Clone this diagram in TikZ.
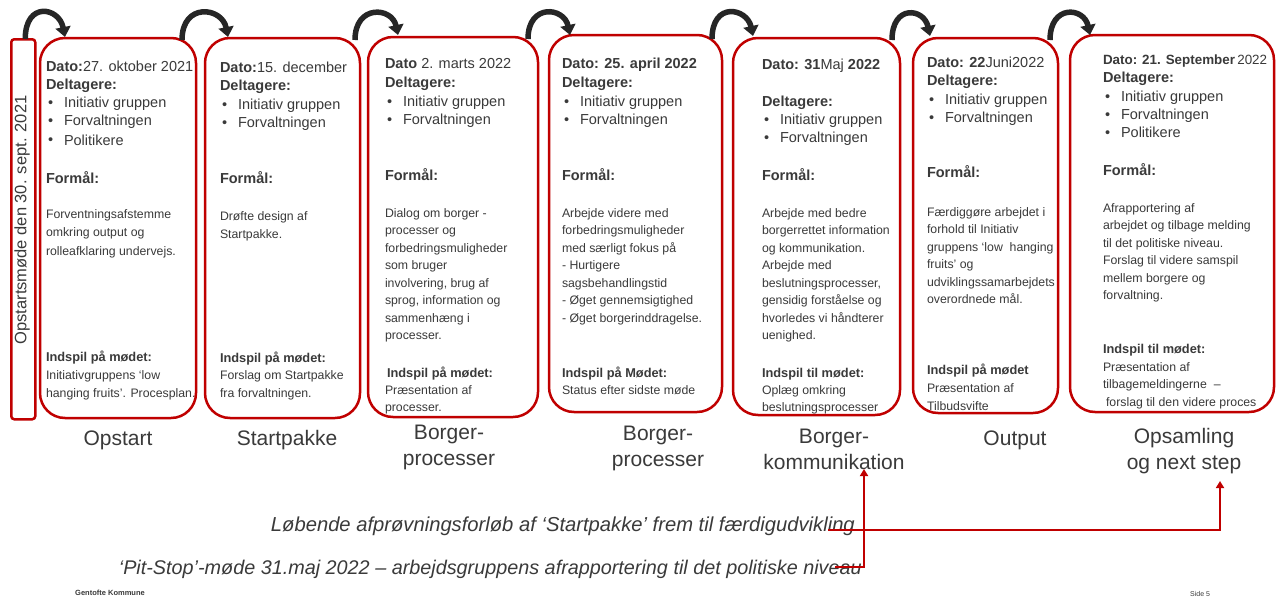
\documentclass[tikz,border=0pt]{standalone}
\usepackage{fontspec}
\setmainfont{Liberation Sans}
\usetikzlibrary{arrows.meta,calc}
\definecolor{boxred}{HTML}{C00000}
\definecolor{tc}{HTML}{3A3A3A}
\definecolor{arrc}{HTML}{262626}
\newcommand\txtlines[5]{\foreach \t [count=\i from 0] in {#5} \node[tl] (#1\i) at (#2,#3+\i*#4) {\t};}
\begin{document}
\begin{tikzpicture}[x=1pt,y=-1pt,
  tl/.style={anchor=base west,inner sep=0pt,outer sep=0pt,text=tc},
  hd/.style={font=\fontsize{14.5pt}{18pt}\selectfont},
  hb/.style={font=\bfseries\fontsize{14.5pt}{18pt}\selectfont},
  bd/.style={font=\fontsize{12.3pt}{17pt}\selectfont},
  ib/.style={font=\bfseries\fontsize{12.8pt}{17pt}\selectfont},
  boxst/.style={draw=boxred,line width=2.5pt,rounded corners=25pt,anchor=north west,inner sep=0pt,outer sep=0pt},
  caption/.style={align=center,text=tc,inner sep=0pt,font=\fontsize{21pt}{26pt}\selectfont},
  ital/.style={text=tc,inner sep=0pt},
  toparr/.style={draw=arrc,line width=5.5pt,-{Triangle[width=15pt,length=10pt]}},
  redarr/.style={draw=boxred,line width=2.5pt,-{Triangle[width=8pt,length=7pt]}}
]
\clip (0,0) rectangle (1276,597);
\fill[white] (0,0) rectangle (1276,597);

% ---------- box 1
\begin{scope}[hd]
\node[tl] (d1) at (46,71) {{\bfseries Dato:}27. oktober 2021};
\node[tl,hb] (g1) at (46,89) {Deltagere:};
\txtlines{p1b}{48}{107}{18.5}{•,•,•}
\node[tl] (p1a) at (64,107) {Initiativ gruppen};
\node[tl] (p1c) at (64,125) {Forvaltningen};
\node[tl] (p1d) at (64,145) {Politikere};
\node[tl,hb] (f1) at (46,183) {Formål:};
\end{scope}
\begin{scope}[bd]
\txtlines{t1}{46}{218}{18.5}{Forventningsafstemme,omkring output og,rolleafklaring undervejs.}
\node[tl,ib] (i1) at (46,361) {Indspil på mødet:};
\txtlines{u1}{46}{379}{18.5}{Initiativgruppens ‘low,hanging fruits’. Procesplan.}
\end{scope}

% ---------- box 2
\begin{scope}[hd]
\node[tl] (d2) at (220,72) {{\bfseries Dato:}15. december};
\node[tl,hb] (g2) at (220,90) {Deltagere:};
\txtlines{p2b}{222}{109}{18}{•,•}
\node[tl] (p2a) at (238,109) {Initiativ gruppen};
\node[tl] (p2c) at (238,127) {Forvaltningen};
\node[tl,hb] (f2) at (220,183) {Formål:};
\end{scope}
\begin{scope}[bd]
\txtlines{t2}{220}{220}{18}{Drøfte design af,Startpakke.}
\node[tl,ib] (i2) at (220,362) {Indspil på mødet:};
\txtlines{u2}{220}{379}{18.5}{Forslag om Startpakke,fra forvaltningen.}
\end{scope}

% ---------- box 3
\begin{scope}[hd]
\node[tl] (d3) at (385,68) {{\bfseries Dato} 2. marts 2022};
\node[tl,hb] (g3) at (385,87) {Deltagere:};
\txtlines{p3b}{387}{106}{18}{•,•}
\node[tl] (p3a) at (403,106) {Initiativ gruppen};
\node[tl] (p3c) at (403,124) {Forvaltningen};
\node[tl,hb] (f3) at (385,180) {Formål:};
\end{scope}
\begin{scope}[bd]
\txtlines{t3}{385}{217}{17.5}{Dialog om borger -,processer og,forbedringsmuligheder,som bruger,{involvering, brug af},{sprog, information og},sammenhæng i,processer.}
\node[tl,ib] (i3) at (387,377) {Indspil på mødet:};
\txtlines{u3}{385}{394}{17.5}{Præsentation af,processer.}
\end{scope}

% ---------- box 4
\begin{scope}[hd]
\node[tl,hb] (d4) at (562,68) {Dato: 25. april 2022};
\node[tl,hb] (g4) at (562,87) {Deltagere:};
\txtlines{p4b}{564}{106}{18}{•,•}
\node[tl] (p4a) at (580,106) {Initiativ gruppen};
\node[tl] (p4c) at (580,124) {Forvaltningen};
\node[tl,hb] (f4) at (562,180) {Formål:};
\end{scope}
\begin{scope}[bd]
\txtlines{t4}{562}{217}{17.5}{Arbejde videre med,forbedringsmuligheder,med særligt fokus på,- Hurtigere,sagsbehandlingstid,- Øget gennemsigtighed,- Øget borgerinddragelse.}
\node[tl,ib] (i4) at (562,377) {Indspil på Mødet:};
\node[tl] (u4) at (562,394) {Status efter sidste møde};
\end{scope}

% ---------- box 5
\begin{scope}[hd]
\node[tl] (d5) at (762,69) {{\bfseries Dato: 31}Maj {\bfseries 2022}};
\node[tl,hb] (g5) at (762,106) {Deltagere:};
\txtlines{p5b}{764}{124}{18.5}{•,•}
\node[tl] (p5a) at (780,124) {Initiativ gruppen};
\node[tl] (p5c) at (780,142.5) {Forvaltningen};
\node[tl,hb] (f5) at (762,180) {Formål:};
\end{scope}
\begin{scope}[bd]
\txtlines{t5}{762}{217}{17.5}{Arbejde med bedre,borgerrettet information,og kommunikation.,Arbejde med,{beslutningsprocesser,},gensidig forståelse og,hvorledes vi håndterer,uenighed.}
\node[tl,ib] (i5) at (762,377) {Indspil til mødet:};
\txtlines{u5}{762}{394}{17.5}{Oplæg omkring,beslutningsprocesser}
\end{scope}

% ---------- box 6
\begin{scope}[hd]
\node[tl] (d6) at (927,67) {{\bfseries Dato: 22}Juni2022};
\node[tl,hb] (g6) at (927,85) {Deltagere:};
\txtlines{p6b}{929}{104}{18}{•,•}
\node[tl] (p6a) at (945,104) {Initiativ gruppen};
\node[tl] (p6c) at (945,122) {Forvaltningen};
\node[tl,hb] (f6) at (927,177) {Formål:};
\end{scope}
\begin{scope}[bd]
\txtlines{t6}{927}{216}{17.5}{Færdiggøre arbejdet i,forhold til Initiativ,gruppens ‘low\ \ hanging,fruits’ og,udviklingssamarbejdets,overordnede mål.}
\node[tl,ib] (i6) at (927,374) {Indspil på mødet};
\txtlines{u6}{927}{392}{18}{Præsentation af,Tilbudsvifte}
\end{scope}

% ---------- box 7
\begin{scope}[hd]
\node[tl,font=\fontsize{13.4pt}{18pt}\selectfont] (d7) at (1103,64) {{\bfseries Dato: 21. September}\,2022};
\node[tl,hb] (g7) at (1103,82) {Deltagere:};
\txtlines{p7b}{1105}{101}{18}{•,•,•}
\node[tl] (p7a) at (1121,101) {Initiativ gruppen};
\node[tl] (p7c) at (1121,119) {Forvaltningen};
\node[tl] (p7d) at (1121,137) {Politikere};
\node[tl,hb] (f7) at (1103,175) {Formål:};
\end{scope}
\begin{scope}[bd]
\txtlines{t7}{1103}{212}{17.5}{Afrapportering af,arbejdet og tilbage melding,til det politiske niveau.,Forslag til videre samspil,mellem borgere og,forvaltning.}
\node[tl,ib] (i7) at (1103,353) {Indspil til mødet:};
\txtlines{u7}{1103}{371}{17.5}{Præsentation af,tilbagemeldingerne\ \ –}
\node[tl] (u7c) at (1106,406) {forslag til den videre proces};
\end{scope}

% ---------- boxes
\node[draw=boxred,line width=2.5pt,rounded corners=3pt,anchor=north west,inner sep=0pt,minimum width=24pt,minimum height=380pt] (b0) at (10,38) {};
\node[rotate=90,text=tc,inner sep=0pt,font=\fontsize{16.5pt}{18pt}\selectfont] (v0) at (22,220) {Opstartsmøde den 30. sept. 2021};
\node[boxst,minimum width=156pt,minimum height=380pt] (b1) at (40,38) {};
\node[boxst,minimum width=155pt,minimum height=380pt] (b2) at (205,38) {};
\node[boxst,minimum width=170pt,minimum height=380pt] (b3) at (368,37) {};
\node[boxst,minimum width=173pt,minimum height=377pt] (b4) at (549,35) {};
\node[boxst,minimum width=167pt,minimum height=377pt] (b5) at (733,38) {};
\node[boxst,minimum width=145pt,minimum height=375pt] (b6) at (913,38) {};
\node[boxst,minimum width=204pt,minimum height=377pt] (b7) at (1070,35) {};

% ---------- top curved arrows
\draw[toparr] ($(b0.north)+(2,1)$) .. controls +(0,-38) and +(-6,-30) .. ($(b1.north west)+(25,-1)$);
\draw[toparr] ($(b1.north east)+(-14,2)$) .. controls +(0,-38) and +(-6,-30) .. ($(b2.north west)+(23,-1)$);
\draw[toparr] ($(b2.north east)+(-5,2)$) .. controls +(0,-36) and +(-6,-28) .. ($(b3.north west)+(30,-2)$);
\draw[toparr] ($(b3.north east)+(-10,2)$) .. controls +(0,-36) and +(-6,-28) .. ($(b4.north west)+(21,0)$);
\draw[toparr] ($(b4.north east)+(-10,4)$) .. controls +(0,-38) and +(-6,-28) .. ($(b5.north west)+(20,-2)$);
\draw[toparr] ($(b5.north east)+(-8,2)$) .. controls +(0,-36) and +(-6,-28) .. ($(b6.north west)+(17,-2)$);
\draw[toparr] ($(b6.north east)+(-8,2)$) .. controls +(0,-36) and +(-6,-28) .. ($(b7.north west)+(20,0)$);

% ---------- captions
\node[caption] (c1) at (118,440) {Opstart};
\node[caption] (c2) at (287,440) {Startpakke};
\node[caption] (c3) at (449,447) {Borger-\\processer};
\node[caption] (c4) at (658,448) {Borger-\\processer};
\node[caption] (c5) at (834,449) {Borger-\\kommunikation};
\node[caption] (c6) at (1015,440) {Output};
\node[caption] (c7) at (1184,451) {Opsamling\\og next step};

% ---------- bottom texts and red arrows
\node[ital,anchor=base east,font=\itshape\fontsize{20.2pt}{22pt}\selectfont] (lob) at (855,531) {Løbende afprøvningsforløb af ‘Startpakke’ frem til færdigudvikling};
\node[ital,anchor=base east,font=\itshape\fontsize{19.8pt}{22pt}\selectfont] (pit) at (862,574) {‘Pit-Stop’-møde 31.maj 2022 – arbejdsgruppens afrapportering til det politiske niveau};
\coordinate (r1) at (1220,481);
\coordinate (r2) at (864,469);
\draw[redarr] ($(lob.base east)+(-27,-1)$) -| (r1);
\draw[redarr] ($(pit.base east)+(-27,-7)$) -| (r2);

% ---------- footer
\node[anchor=base west,inner sep=0pt,text=tc,font=\bfseries\fontsize{7.5pt}{9pt}\selectfont] (ft1) at (75,595) {Gentofte Kommune};
\node[anchor=base west,inner sep=0pt,text=tc,font=\fontsize{7pt}{9pt}\selectfont] (ft2) at (1190,596) {Side 5};
\end{tikzpicture}
\end{document}
